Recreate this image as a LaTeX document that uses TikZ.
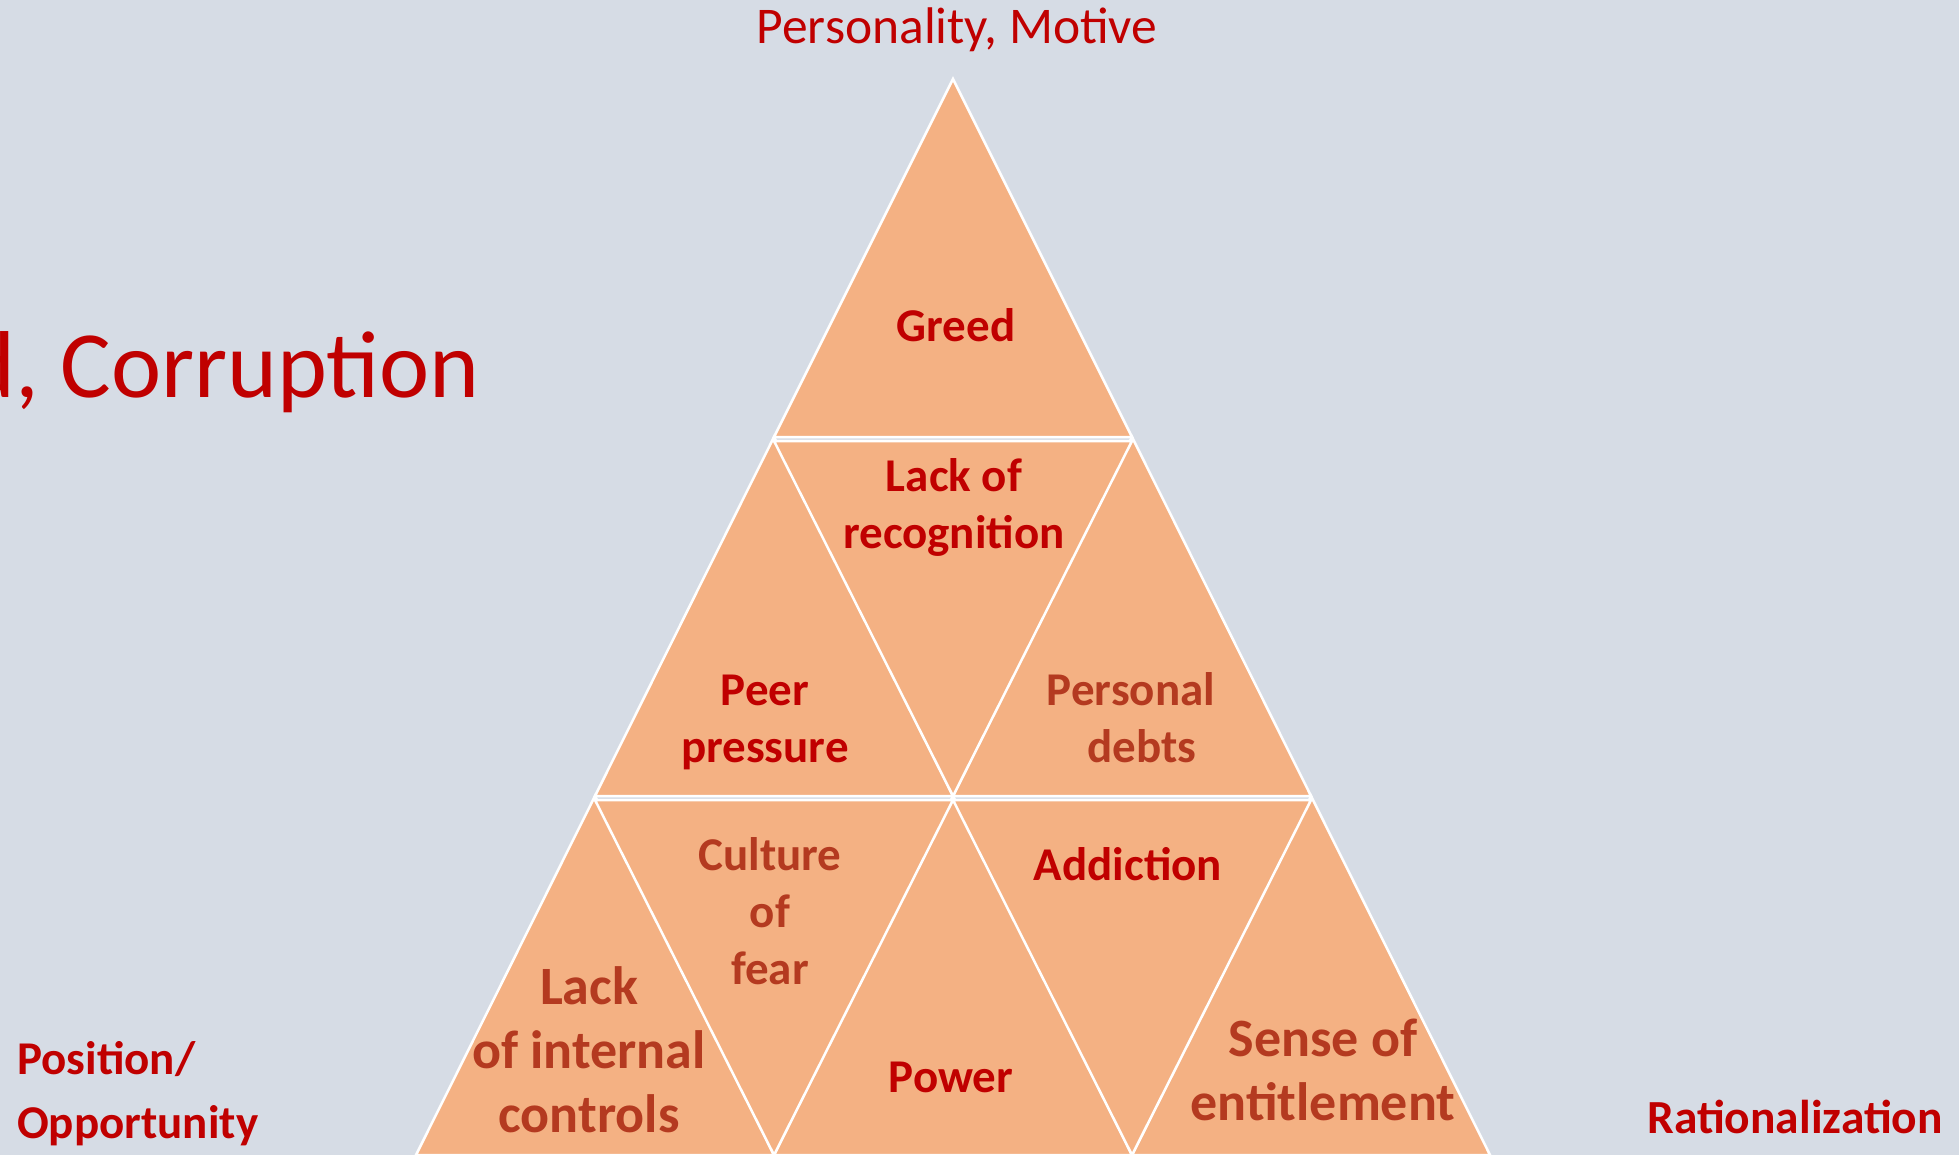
\documentclass[tikz,border=0pt]{standalone}
\usepackage{fontspec}
\setmainfont{Carlito}
\definecolor{bg}{HTML}{D6DCE5}
\definecolor{trifill}{HTML}{F4B183}
\definecolor{darkred}{HTML}{C00000}
\definecolor{brownred}{HTML}{B43A20}
\tikzset{
  tri/.style={fill=trifill, draw=white, line width=2.5pt, line join=miter},
  lbl/.style={text=darkred, font=\bfseries\fontsize{47}{57}\selectfont, align=center, inner sep=0pt, anchor=base},
  lblb/.style={text=brownred, font=\bfseries\fontsize{47}{57}\selectfont, align=center, inner sep=0pt, anchor=base},
  lblbig/.style={text=brownred, font=\bfseries\fontsize{54}{64}\selectfont, align=center, inner sep=0pt, anchor=base},
  corner/.style={text=darkred, font=\bfseries\fontsize{47}{64}\selectfont, inner sep=0pt, anchor=base west, align=left},
}
\begin{document}
\begin{tikzpicture}[x=1pt,y=-1pt]
\path[use as bounding box, fill=bg] (0,0) rectangle (1959,1155);
\begin{scope}
\clip (0,0) rectangle (1959,1155);
% upward triangles
\path[tri] (953,79) -- (774,437) -- (1132,437) -- cycle;
\path[tri] (774,437) -- (595,796) -- (953,796) -- cycle;
\path[tri] (1132,437) -- (953,796) -- (1311,796) -- cycle;
\path[tri] (595,796) -- (416,1155) -- (774,1155) -- cycle;
\path[tri] (953,796) -- (774,1155) -- (1132,1155) -- cycle;
\path[tri] (1311,796) -- (1132,1155) -- (1490,1155) -- cycle;
% downward triangles
\path[tri] (774,441) -- (1132,441) -- (953,796) -- cycle;
\path[tri] (595,800) -- (953,800) -- (774,1155) -- cycle;
\path[tri] (953,800) -- (1311,800) -- (1132,1155) -- cycle;
% big title, cut at the left edge
\node[text=darkred, font=\fontsize{95}{114}\selectfont, inner sep=0pt, anchor=base east] (title) at (480,397) {d, Corruption};
\end{scope}
\node[text=darkred, font=\fontsize{51.5}{62}\selectfont, inner sep=0pt, anchor=base] (top) at (957,44) {Personality, Motive};
\node[corner] (pos) at (17,1138) {Position/\\Opportunity};
\node[text=darkred, font=\bfseries\fontsize{47.5}{57}\selectfont, inner sep=0pt, anchor=base east] (rat) at (1943,1133) {Rationalization};
% labels
\node[lbl] (greed) at (956,342) {Greed};
\node[lbl] (recog) at (954,548) {Lack of\\recognition};
\node[lbl] (peer) at (765,762) {Peer\\pressure};
\node[lblb] (debts) at (1131,762) {Personal\\~~debts};
\node[lblb] (fear) at (770,984) {Culture\\of\\fear};
\node[lbl] (addict) at (1128,880) {Addiction};
\node[lblbig] (controls) at (589,1132) {Lack\\of internal\\controls};
\node[lbl] (power) at (951,1092) {Power};
\node[lblbig] (entitle) at (1323,1120) {Sense of\\entitlement};
\end{tikzpicture}
\end{document}
